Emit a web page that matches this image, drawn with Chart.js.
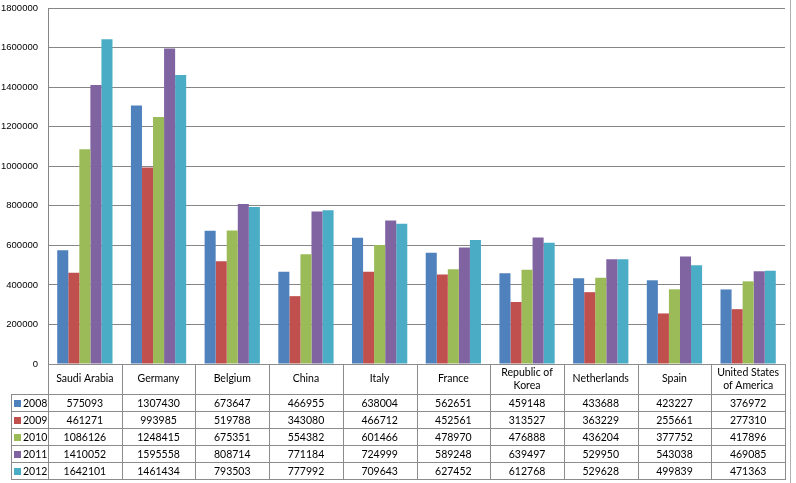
<!DOCTYPE html>
<html>
<head>
<meta charset="utf-8">
<script src="https://cdn.jsdelivr.net/npm/chart.js@4"></script>
<style>
  html, body { margin: 0; padding: 0; background: #fff; }
  canvas { display: block; }
</style>
</head>
<body>
<canvas id="mychart" width="796" height="483"></canvas>
<script>
// data
const categories = [
  ["Saudi Arabia"], ["Germany"], ["Belgium"], ["China"], ["Italy"], ["France"],
  ["Republic of", "Korea"], ["Netherlands"], ["Spain"], ["United States", "of America"]
];
const years = ["2008", "2009", "2010", "2011", "2012"];
const v2008 = [575093, 1307430, 673647, 466955, 638004, 562651, 459148, 433688, 423227, 376972];
const v2009 = [461271, 993985, 519788, 343080, 466712, 452561, 313527, 363229, 255661, 277310];
const v2010 = [1086126, 1248415, 675351, 554382, 601466, 478970, 476888, 436204, 377752, 417896];
const v2011 = [1410052, 1595558, 808714, 771184, 724999, 589248, 639497, 529950, 543038, 469085];
const v2012 = [1642101, 1461434, 793503, 777992, 709643, 627452, 612768, 529628, 499839, 471363];
const yTicks = [0, 200000, 400000, 600000, 800000, 1000000, 1200000, 1400000, 1600000, 1800000];

const colors = ["#4F81BD", "#C0504D", "#9BBB59", "#8064A2", "#4BACC6"];
const series = [v2008, v2009, v2010, v2011, v2012];

// table under the plot (Excel style data table)
const tableFont = "10.5px Lato, 'Open Sans', sans-serif";
const headerBottom = 394;
const rowH = 17;
const tableLeft = 11;

const dataTable = {
  id: "dataTable",
  afterDraw(chart) {
    const c = chart.ctx;
    const area = chart.chartArea;
    const n = categories.length;
    const colW = (area.right - area.left) / n;
    const top = area.bottom;
    const bottom = headerBottom + rowH * years.length;

    c.save();
    c.strokeStyle = "#8c8c8c";
    c.lineWidth = 1;
    c.beginPath();
    for (let i = 0; i <= n; i++) {
      const x = Math.round(area.left + i * colW) + 0.5;
      c.moveTo(x, top);
      c.lineTo(x, bottom);
    }
    c.moveTo(tableLeft + 0.5, headerBottom);
    c.lineTo(tableLeft + 0.5, bottom);
    for (let r = 0; r <= years.length; r++) {
      const y = headerBottom + r * rowH + 0.5;
      c.moveTo(tableLeft, y);
      c.lineTo(Math.round(area.right) + 1, y);
    }
    c.stroke();

    // chart border at right
    c.strokeStyle = "#b0b0b0";
    c.beginPath();
    c.moveTo(790.5, 0);
    c.lineTo(790.5, 483);
    c.stroke();

    c.font = tableFont;
    c.fillStyle = "#000";
    c.textAlign = "center";
    c.textBaseline = "middle";
    categories.forEach((lines, i) => {
      const cx = area.left + (i + 0.5) * colW;
      const mid = (top + headerBottom) / 2;
      lines.forEach((t, k) => {
        c.fillText(t, cx, mid + (k - (lines.length - 1) / 2) * 13);
      });
    });

    chart.data.datasets.forEach((ds, r) => {
      const cy = headerBottom + r * rowH + rowH / 2 + 1;
      c.fillStyle = ds.backgroundColor;
      c.fillRect(tableLeft + 3, cy - 3.5, 7, 7);
      c.fillStyle = "#000";
      c.textAlign = "left";
      c.fillText(ds.label, tableLeft + 12, cy);
      c.textAlign = "center";
      ds.data.forEach((v, i) => {
        c.fillText(String(v), area.left + (i + 0.5) * colW, cy);
      });
    });
    c.restore();
  }
};

var ctx = document.getElementById("mychart").getContext("2d");

var myChart = new Chart(ctx, {
  type: "bar",
  data: {
    labels: categories.map((l) => l.join(" ")),
    datasets: years.map((y, i) => ({
      label: y,
      data: series[i],
      backgroundColor: colors[i],
      borderWidth: 0,
      categoryPercentage: 0.75,
      barPercentage: 1.0
    }))
  },
  options: {
    responsive: false,
    animation: false,
    layout: { padding: { left: 0, right: 11, top: 8, bottom: 0 } },
    plugins: {
      legend: { display: false },
      tooltip: { enabled: false }
    },
    scales: {
      x: {
        grid: { display: false, drawTicks: false },
        border: { color: "#8c8c8c" },
        ticks: { display: false },
        afterFit: (s) => { s.height = 483 - 364; }
      },
      y: {
        min: 0,
        max: 1800000,
        afterBuildTicks: (s) => { s.ticks = yTicks.map((v) => ({ value: v })); },
        afterFit: (s) => { s.width = 48; s.paddingTop = 0; s.paddingBottom = 0; },
        grid: { color: "#868686", drawTicks: false },
        border: { color: "#868686" },
        ticks: {
          padding: 10,
          color: "#000",
          callback: (v) => String(v),
          font: { family: "'Liberation Sans', Arial, sans-serif", size: 9.5 }
        }
      }
    }
  },
  plugins: [dataTable]
});
</script>
</body>
</html>
